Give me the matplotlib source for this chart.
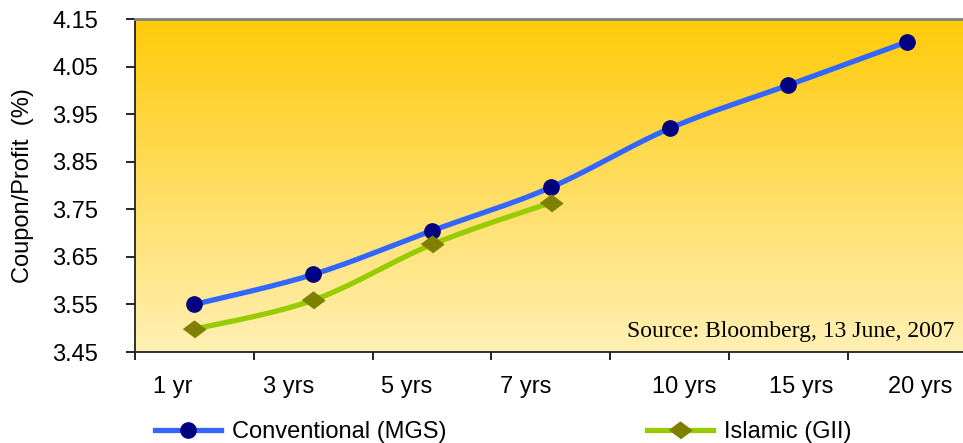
import numpy as np
import matplotlib
matplotlib.use("Agg")
import matplotlib.pyplot as plt
from matplotlib.colors import LinearSegmentedColormap
from matplotlib.lines import Line2D
from matplotlib.transforms import Bbox, TransformedBbox

# tenors and yields
tenors = ["1 yr", "3 yrs", "5 yrs", "7 yrs", "10 yrs", "15 yrs", "20 yrs"]
mgs_yield = [3.55, 3.613, 3.705, 3.796, 3.92, 4.011, 4.102]
gii_yield = [3.498, 3.559, 3.676, 3.764]

# tick label anchors (typed-in labels sit a bit off the category centres)
label_pos = [0.32, 1.29, 2.29, 3.29, 4.62, 5.61, 6.61]

plt.rcParams["font.family"] = ["Liberation Sans", "DejaVu Sans"]


def smooth(x, y, n=24):
    """Catmull-Rom curve through the points, like a spreadsheet 'smoothed line'."""
    pts = np.column_stack([x, y]).astype(float)
    if len(pts) < 3:
        return pts[:, 0], pts[:, 1]
    p = np.vstack([pts[0], pts, pts[-1]])
    out = []
    t = np.linspace(0, 1, n, endpoint=False)[:, None]
    for i in range(1, len(p) - 2):
        p0, p1, p2, p3 = p[i - 1], p[i], p[i + 1], p[i + 2]
        seg = 0.5 * ((2 * p1) + (-p0 + p2) * t
                     + (2 * p0 - 5 * p1 + 4 * p2 - p3) * t ** 2
                     + (-p0 + 3 * p1 - 3 * p2 + p3) * t ** 3)
        out.append(seg)
    out.append(pts[-1][None, :])
    out = np.vstack(out)
    return out[:, 0], out[:, 1]


fig = plt.figure(figsize=(9.63, 4.43), dpi=100)
ax = fig.add_axes([0.1402, 0.2054, 0.8635, 0.7517])

# vertical gold gradient behind the plot
grad = LinearSegmentedColormap.from_list("gold", ["#FFF0B4", "#FFDD60", "#FFCB08"])
ax.imshow(np.linspace(0, 1, 256)[:, None], cmap=grad, aspect="auto",
          extent=[0, 1, 0, 1], transform=ax.transAxes, origin="lower", zorder=0)

x_mgs = np.arange(len(mgs_yield)) + 0.5
x_gii = np.arange(len(gii_yield)) + 0.5

blue, navy = "#3366FF", "#000080"
green, olive = "#99CC00", "#808000"
diamond = [(-1, 0), (0, 0.75), (1, 0), (0, -0.75)]

sx, sy = smooth(x_mgs, mgs_yield)
ax.plot(sx, sy, color=blue, lw=3.8, solid_capstyle="round", zorder=3)
ax.plot(x_mgs, mgs_yield, ls="none", marker="o", ms=11, color=navy, zorder=4)

gx, gy = smooth(x_gii, gii_yield)
ax.plot(gx, gy, color=green, lw=3.8, solid_capstyle="round", zorder=3)
ax.plot(x_gii, gii_yield, ls="none", marker=diamond, ms=16, color=olive, zorder=4)

ax.set_xlim(0, 7)
ax.set_ylim(3.45, 4.15)
ax.set_yticks(np.arange(3.45, 4.151, 0.1))
ax.set_yticklabels([f"{v:.2f}" for v in np.arange(3.45, 4.151, 0.1)])
ax.set_xticks(np.arange(0, 8))
ax.set_xticklabels([])
ax.set_xticks(label_pos, minor=True)
ax.set_xticklabels(tenors, minor=True)

ax.tick_params(axis="y", direction="out", length=6.5, width=1.2, pad=20,
               labelsize=17, colors="black")
ax.tick_params(axis="x", which="major", direction="out", length=6, width=1.2)
ax.tick_params(axis="x", which="minor", length=0, pad=17, labelsize=17)

for side in ["left", "bottom"]:
    ax.spines[side].set_linewidth(1.3)
    ax.spines[side].set_color("#222222")
ax.spines["top"].set_color("#808080")
ax.spines["top"].set_linewidth(2)
ax.spines["right"].set_visible(False)

ax.set_ylabel("Coupon/Profit  (%)", fontsize=17)
ax.yaxis.set_label_coords(-0.121, 0.5)

src = ax.text(0.5917, 0.045, "Source: Bloomberg, 13 June, 2007", transform=ax.transAxes,
              family=["Liberation Serif", "DejaVu Serif"], fontsize=17,
              ha="left", va="baseline", zorder=5)
src.set_clip_box(TransformedBbox(Bbox([[0, 0.036], [1, 1]]), ax.transAxes))

handles = [
    Line2D([], [], color=blue, lw=3.8, marker="o", ms=11, mfc=navy, mec=navy),
    Line2D([], [], color=green, lw=3.8, marker=diamond, ms=16, mfc=olive, mec=olive),
]
fig.legend(handles, ["Conventional (MGS)", "Islamic (GII)"], ncol=2, frameon=False,
           loc="center left", bbox_to_anchor=(0.161, 0.025), borderpad=0,
           borderaxespad=0, fontsize=17, handlelength=2.8, handletextpad=0.45,
           columnspacing=8.5, numpoints=1)

fig.savefig("out.png", dpi=100)
